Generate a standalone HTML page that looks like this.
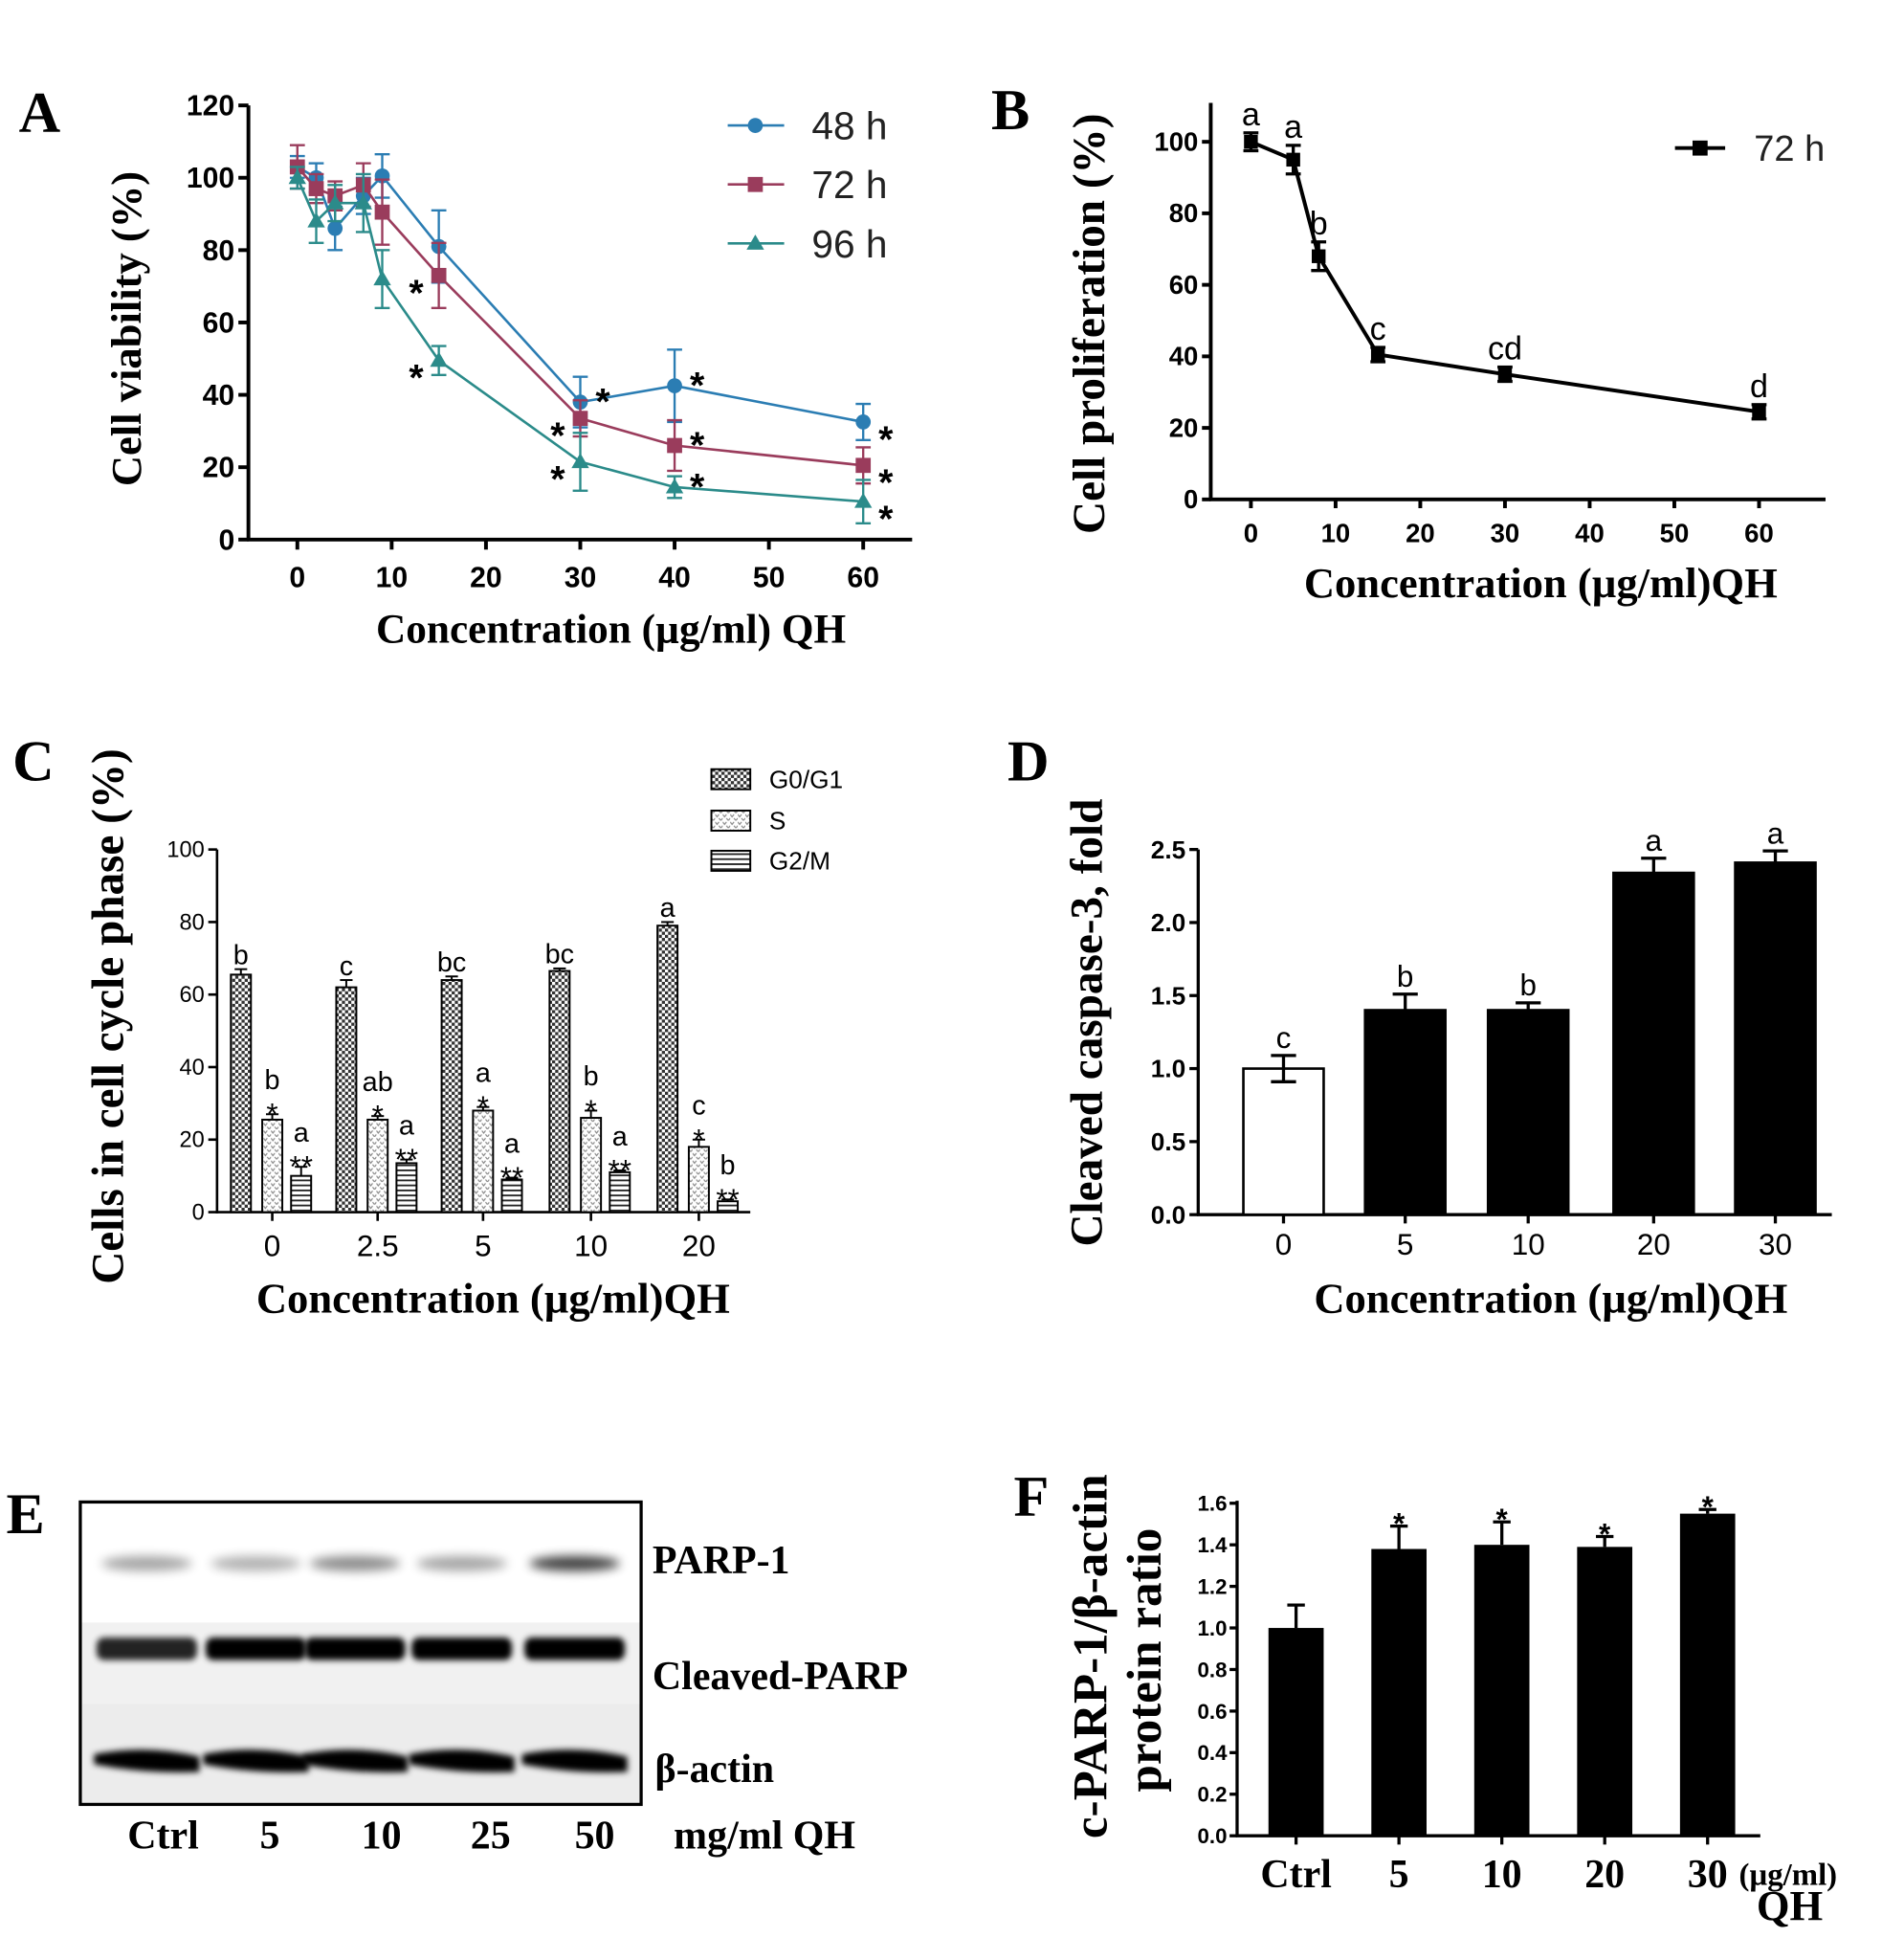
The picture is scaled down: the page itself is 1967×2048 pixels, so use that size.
<!DOCTYPE html>
<html><head><meta charset="utf-8"><style>
html,body{margin:0;padding:0;background:#fff}
svg{display:block}
.ser{font-family:"Liberation Serif",serif;font-weight:bold}
.san{font-family:"Liberation Sans",sans-serif}
</style></head><body>
<svg id="fig" width="1967" height="2048" viewBox="0 0 1500 1562" preserveAspectRatio="none" xmlns="http://www.w3.org/2000/svg">
<defs>
<filter id="blur4" x="-20%" y="-100%" width="140%" height="300%"><feGaussianBlur stdDeviation="4"/></filter>
<filter id="blur2" x="-20%" y="-100%" width="140%" height="300%"><feGaussianBlur stdDeviation="2.5"/></filter>
<pattern id="pG0" width="5" height="5" patternUnits="userSpaceOnUse"><rect width="5" height="5" fill="#fff"/><rect width="2.5" height="2.5" fill="#333"/><rect x="2.5" y="2.5" width="2.5" height="2.5" fill="#333"/></pattern>
<pattern id="pS" width="6" height="6" patternUnits="userSpaceOnUse"><rect width="6" height="6" fill="#fff"/><path d="M0 1 L1.5 3 L3 1 M3 4 L4.5 6 L6 4" stroke="#888" stroke-width="0.9" fill="none"/></pattern>
<pattern id="pG2" width="4" height="4" patternUnits="userSpaceOnUse"><rect width="4" height="4" fill="#fff"/><rect y="0" width="4" height="1.4" fill="#222"/></pattern>
</defs>
<g id="root"></g>
</svg>
<script>
// ===== Panel A data =====
const aX = [0, 2, 4, 7, 9, 15, 30, 40, 60];
const a48 = [103, 100, 86, 95, 100.5, 81, 38, 42.5, 32.5];
const a48e = [3, 4, 6, 5, 6, 10, 7, 10, 5];
const a72 = [103, 97, 95, 98, 90.5, 73, 33.5, 26, 20.5];
const a72e = [6, 4, 4, 6, 9, 9, 5, 7, 5];
const a96 = [100, 88, 93, 93, 72, 49.5, 21.5, 14.5, 10.5];
const a96e = [3, 6, 5, 8, 8, 4, 8, 3, 6];
const aYTicks = [0, 20, 40, 60, 80, 100, 120];
const aXTicks = [0, 10, 20, 30, 40, 50, 60];
// ===== Panel B data =====
const bX = [0, 5, 8, 15, 30, 60];
const bY = [100, 95, 68, 40.5, 35, 24.5];
const bE = [2.5, 4, 4, 2, 2, 2];
const bLetters = ["a", "a", "b", "c", "cd", "d"];
const bYTicks = [0, 20, 40, 60, 80, 100];
const bXTicks = [0, 10, 20, 30, 40, 50, 60];
// ===== Panel C data =====
const cCats = ["0", "2.5", "5", "10", "20"];
const cG0 = [65.5, 62, 64, 66.5, 79];
const cG0e = [1.5, 2, 1, 0.7, 1];
const cS = [25.5, 25.5, 28, 26, 18];
const cSe = [1.5, 1, 1, 2, 2];
const cG2 = [10, 13.5, 9, 11, 3];
const cG2e = [2.5, 1, 0.5, 0.5, 0.5];
const cG0L = ["b", "c", "bc", "bc", "a"];
const cSL = ["b", "ab", "a", "b", "c"];
const cG2L = ["a", "a", "a", "a", "b"];
const cYTicks = [0, 20, 40, 60, 80, 100];
// ===== Panel D data =====
const dCats = ["0", "5", "10", "20", "30"];
const dVals = [1.0, 1.4, 1.4, 2.34, 2.41];
const dErr = [0.09, 0.11, 0.05, 0.1, 0.08];
const dLetters = ["c", "b", "b", "a", "a"];
const dYTicks = [0, 0.5, 1.0, 1.5, 2.0, 2.5];
// ===== Panel F data =====
const fCats = ["Ctrl", "5", "10", "20", "30"];
const fVals = [1.0, 1.38, 1.40, 1.39, 1.55];
const fErr = [0.11, 0.11, 0.11, 0.05, 0.02];
const fYTicks = [0, 0.2, 0.4, 0.6, 0.8, 1.0, 1.2, 1.4, 1.6];
// ===== Panel E data =====
const eLanes = ["Ctrl", "5", "10", "25", "50"];
const eParp = [0.35, 0.3, 0.45, 0.35, 0.75];
const eCleaved = [0.85, 1, 1, 1, 1];
const eActin = [1, 1, 1, 1, 1];

const NS = "http://www.w3.org/2000/svg";
const root = document.getElementById("root");
function el(tag, attrs, parent, text) {
  const e = document.createElementNS(NS, tag);
  for (const k in attrs) e.setAttribute(k, attrs[k]);
  if (text !== undefined) e.textContent = text;
  (parent || root).appendChild(e);
  return e;
}
function grp(name) {
  const g = el("g", {});
  
  
  return g;
}
function txt(parent, x, y, s, size, cls, anchor, extra) {
  const t = el("text", Object.assign({x: x, y: y, "font-size": size, "class": cls, "text-anchor": anchor || "middle"}, extra || {}), parent, s);
  return t;
}
function line(p, x1, y1, x2, y2, c, w) { return el("line", {x1, y1, x2, y2, stroke: c || "#000", "stroke-width": w || 2}, p); }

// ---------- Panel A ----------
(function () {
  const g = grp("panel-a");
  const ax = v => 237 + (v / 60) * (688 - 237);
  const ay = v => 430 - (v / 120) * (430 - 84);
  const L = txt(g, 15, 105, "A", 46, "ser", "start");
  
  line(g, 198, 84, 198, 431, "#000", 3);
  line(g, 197, 430, 727, 430, "#000", 3);
  aYTicks.forEach(v => { line(g, 190, ay(v), 198, ay(v), "#000", 3); txt(g, 187, ay(v) + 8, String(v), 23, "san", "end", {"font-weight": "bold"}); });
  aXTicks.forEach(v => { line(g, ax(v), 430, ax(v), 438, "#000", 3); txt(g, ax(v), 468, String(v), 23, "san", "middle", {"font-weight": "bold"}); });
  const yt = txt(g, 0, 0, "Cell viability (%)", 34, "ser", "middle", {transform: "translate(112,262) rotate(-90)"});
  
  const xt = txt(g, 487, 512, "Concentration (µg/ml) QH", 33, "ser");
  
  const series = [[a48, a48e, "#2b7db3", "circle", "series-48h"], [a72, a72e, "#9a3c5c", "square", "series-72h"], [a96, a96e, "#2b8b8a", "triangle", "series-96h"]];
  series.forEach(([vals, errs, col, shape, name]) => {
    const sg = el("g", {}, g);
    
    
    el("polyline", {points: aX.map((x, i) => ax(x) + "," + ay(vals[i])).join(" "), fill: "none", stroke: col, "stroke-width": 2}, sg);
    aX.forEach((x, i) => {
      const cx = ax(x), cy = ay(vals[i]), t = ay(vals[i] + errs[i]), b = ay(vals[i] - errs[i]);
      line(sg, cx, t, cx, b, col, 1.8); line(sg, cx - 6, t, cx + 6, t, col, 1.8); line(sg, cx - 6, b, cx + 6, b, col, 1.8);
      let m;
      if (shape === "circle") m = el("circle", {cx, cy, r: 6, fill: col}, sg);
      else if (shape === "square") m = el("rect", {x: cx - 6, y: cy - 6, width: 12, height: 12, fill: col}, sg);
      else m = el("polygon", {points: `${cx},${cy - 7} ${cx - 7},${cy + 5} ${cx + 7},${cy + 5}`, fill: col}, sg);
      
      
    });
  });
  const stars = [[a72, 5, -1], [a96, 5, -1], [a48, 6, 1], [a72, 6, -1], [a96, 6, -1], [a48, 7, 1], [a72, 7, 1], [a96, 7, 1], [a48, 8, 1], [a72, 8, 1], [a96, 8, 1]];
  stars.forEach(([s, i, d]) => {
    const cx = ax(aX[i]) + d * 18, cy = ay(s[i]) + (d > 0 && i < 8 ? -8 : 6);
    txt(g, cx, cy + 18, "*", 30, "san", "middle", {"font-weight": "bold"});
  });
  const lg = el("g", {}, g);
  
  
  [["48 h", "#2b7db3", "circle"], ["72 h", "#9a3c5c", "square"], ["96 h", "#2b8b8a", "triangle"]].forEach(([lab, col, sh], k) => {
    const y = 100 + k * 47;
    const e = el("g", {}, lg);
    
    
    line(e, 580, y, 625, y, col, 2);
    if (sh === "circle") el("circle", {cx: 602, cy: y, r: 6, fill: col}, e);
    else if (sh === "square") el("rect", {x: 596, y: y - 6, width: 12, height: 12, fill: col}, e);
    else el("polygon", {points: `602,${y - 7} 595,${y + 5} 609,${y + 5}`, fill: col}, e);
    txt(e, 647, y + 11, lab, 31, "san", "start", {fill: "#222"});
  });
})();

// ---------- Panel B ----------
(function () {
  const g = grp("panel-b");
  const bx = v => 997 + (v / 60) * (1402 - 997);
  const by = v => 398 - (v / 100) * (398 - 113);
  txt(g, 790, 103, "B", 46, "ser", "start");
  line(g, 965, 82, 965, 399, "#000", 3);
  line(g, 964, 398, 1455, 398, "#000", 3);
  bYTicks.forEach(v => { line(g, 958, by(v), 965, by(v), "#000", 3); txt(g, 955, by(v) + 7, String(v), 21, "san", "end", {"font-weight": "bold"}); });
  bXTicks.forEach(v => { line(g, bx(v), 398, bx(v), 405, "#000", 3); txt(g, bx(v), 432, String(v), 21, "san", "middle", {"font-weight": "bold"}); });
  txt(g, 0, 0, "Cell proliferation (%)", 36, "ser", "middle", {transform: "translate(880,258) rotate(-90)"});
  txt(g, 1228, 476, "Concentration (µg/ml)QH", 34, "ser");
  const sg = el("g", {}, g);
  
  
  el("polyline", {points: bX.map((x, i) => bx(x) + "," + by(bY[i])).join(" "), fill: "none", stroke: "#000", "stroke-width": 3}, sg);
  bX.forEach((x, i) => {
    const cx = bx(x), t = by(bY[i] + bE[i]), b = by(bY[i] - bE[i]);
    line(sg, cx, t, cx, b, "#000", 2.5); line(sg, cx - 6, t, cx + 6, t, "#000", 2.5); line(sg, cx - 6, b, cx + 6, b, "#000", 2.5);
    const m = el("rect", {x: cx - 5.5, y: by(bY[i]) - 5.5, width: 11, height: 11, fill: "#000"}, sg);
    
    
    txt(sg, cx, t - 6, bLetters[i], 26, "san", "middle");
  });
  const lg = el("g", {}, g);
  
  
  line(lg, 1335, 118, 1375, 118, "#000", 3);
  el("rect", {x: 1349, y: 112, width: 12, height: 12, fill: "#000"}, lg);
  txt(lg, 1398, 128, "72 h", 29, "san", "start", {fill: "#222"});
})();

// ---------- Panel C ----------
(function () {
  const g = grp("panel-c");
  const cx0 = [217, 301, 385, 471, 557];
  const cy = v => 966 - (v / 100) * (966 - 677);
  txt(g, 10, 622, "C", 46, "ser", "start");
  line(g, 173, 677, 173, 967, "#000", 2);
  line(g, 172, 966, 598, 966, "#000", 2);
  cYTicks.forEach(v => { line(g, 166, cy(v), 173, cy(v), "#000", 2); txt(g, 163, cy(v) + 6, String(v), 18, "san", "end"); });
  cCats.forEach((c, i) => { line(g, cx0[i], 966, cx0[i], 973, "#000", 2); txt(g, cx0[i], 1001, c, 24, "san"); });
  txt(g, 0, 0, "Cells in cell cycle phase (%)", 36, "ser", "middle", {transform: "translate(98,810) rotate(-90)"});
  txt(g, 393, 1046, "Concentration (µg/ml)QH", 34, "ser");
  const sets = [[cG0, cG0e, cG0L, "", -25, "url(#pG0)", "bar-g0g1"], [cS, cSe, cSL, "*", 0, "url(#pS)", "bar-s"], [cG2, cG2e, cG2L, "**", 23, "url(#pG2)", "bar-g2m"]];
  sets.forEach(([vals, errs, labs, st, off, fill, name]) => {
    vals.forEach((v, i) => {
      const x = cx0[i] + off, top = cy(v), et = cy(v + errs[i]);
      const r = el("rect", {x: x - 8, y: top, width: 16, height: 966 - top, fill: fill, stroke: "#000", "stroke-width": 1.5}, g);
      
      
      line(g, x, top, x, et, "#000", 1.5); line(g, x - 5, et, x + 5, et, "#000", 1.5);
      let y = et - 4;
      if (st) { txt(g, x, y + 12, st, 24, "san"); y -= 16; }
      txt(g, x, y, labs[i], 22, "san");
    });
  });
  const lg = el("g", {}, g);
  
  
  [["G0/G1", "url(#pG0)", 613], ["S", "url(#pS)", 646], ["G2/M", "url(#pG2)", 678]].forEach(([lab, f, y]) => {
    const e = el("g", {}, lg);
    
    
    el("rect", {x: 567, y: y, width: 31, height: 16, fill: f, stroke: "#000", "stroke-width": 1.5}, e);
    txt(e, 613, y + 15, lab, 20, "san", "start");
  });
})();

// ---------- Panel D ----------
(function () {
  const g = grp("panel-d");
  const dx = [1018, 1115, 1213, 1313, 1410];
  const dy = v => 968 - (v / 2.5) * (968 - 677);
  txt(g, 803, 622, "D", 46, "ser", "start");
  line(g, 955, 677, 955, 969, "#000", 2.5);
  line(g, 954, 968, 1460, 968, "#000", 2.5);
  dYTicks.forEach(v => { line(g, 948, dy(v), 955, dy(v), "#000", 2.5); txt(g, 945, dy(v) + 7, v.toFixed(1), 20, "san", "end", {"font-weight": "bold"}); });
  dCats.forEach((c, i) => { line(g, dx[i] + 5, 968, dx[i] + 5, 975, "#000", 2.5); txt(g, dx[i] + 5, 1000, c, 24, "san"); });
  txt(g, 0, 0, "Cleaved   caspase-3, fold", 36, "ser", "middle", {transform: "translate(878,815) rotate(-90)"});
  txt(g, 1236, 1046, "Concentration (µg/ml)QH", 34, "ser");
  dVals.forEach((v, i) => {
    const x = dx[i] + 5, top = dy(v), et = dy(v + dErr[i]);
    const r = el("rect", {x: x - 32, y: top, width: 64, height: 968 - top, fill: i === 0 ? "#fff" : "#000", stroke: "#000", "stroke-width": 2}, g);
    
    
    line(g, x, top, x, et, "#000", 2.5); line(g, x - 10, et, x + 10, et, "#000", 2.5);
    if (i === 0) { const eb = dy(v - dErr[i]); line(g, x, top, x, eb, "#000", 2.5); line(g, x - 10, eb, x + 10, eb, "#000", 2.5); }
    txt(g, x, et - 6, dLetters[i], 24, "san");
  });
})();

// ---------- Panel E ----------
(function () {
  const g = grp("panel-e");
  const lx = [117, 204, 283, 368, 458];
  txt(g, 5, 1222, "E", 46, "ser", "start");
  el("rect", {x: 65, y: 1293, width: 446, height: 65, fill: "#f1f1f1"}, g);
  el("rect", {x: 65, y: 1358, width: 446, height: 80, fill: "#ececec"}, g);
  const blot = el("rect", {x: 64, y: 1197, width: 447, height: 241, fill: "none", stroke: "#000", "stroke-width": 2.5}, g);
  
  
  lx.forEach((x, i) => {
    const p = el("ellipse", {cx: x, cy: 1246, rx: 36, ry: 6, fill: "#000", opacity: eParp[i], filter: "url(#blur4)"}, g);
    
    
    const c = el("rect", {x: x - 40, y: 1305, width: 80, height: 18, rx: 6, fill: "#000", opacity: eCleaved[i], filter: "url(#blur2)"}, g);
    
    
    const a = el("path", {d: `M${x - 42} ${1398} Q${x} ${1390} ${x + 42} ${1400} L${x + 42} ${1412} Q${x} ${1414} ${x - 42} ${1406} Z`, fill: "#000", opacity: eActin[i], filter: "url(#blur2)"}, g);
    
    
  });
  txt(g, 520, 1254, "PARP-1", 32, "ser", "start");
  txt(g, 520, 1346, "Cleaved-PARP", 32, "ser", "start");
  txt(g, 522, 1420, "β-actin", 32, "ser", "start");
  const xl = [130, 215, 304, 391, 474];
  eLanes.forEach((l, i) => txt(g, xl[i], 1473, l, 32, "ser"));
  txt(g, 537, 1473, "mg/ml QH", 32, "ser", "start");
})();

// ---------- Panel F ----------
(function () {
  const g = grp("panel-f");
  const fx = [1033, 1115, 1197, 1279, 1361];
  const fy = v => 1463 - (v / 1.6) * (1463 - 1198);
  txt(g, 808, 1208, "F", 46, "ser", "start");
  line(g, 986, 1196, 986, 1464, "#000", 2.5);
  line(g, 985, 1463, 1403, 1463, "#000", 2.5);
  fYTicks.forEach(v => { line(g, 980, fy(v), 986, fy(v), "#000", 2.5); txt(g, 978, fy(v) + 6, v.toFixed(1), 17, "san", "end", {"font-weight": "bold"}); });
  fCats.forEach((c, i) => { line(g, fx[i], 1463, fx[i], 1470, "#000", 2.5); txt(g, fx[i], 1504, c, 32, "ser"); });
  txt(g, 1386, 1502, "(µg/ml)", 25, "ser", "start");
  txt(g, 1400, 1530, "QH", 34, "ser", "start");
  txt(g, 0, 0, "c-PARP-1/β-actin", 39, "ser", "middle", {transform: "translate(882,1320) rotate(-90)"});
  txt(g, 0, 0, "protein ratio", 39, "ser", "middle", {transform: "translate(925,1323) rotate(-90)"});
  fVals.forEach((v, i) => {
    const x = fx[i], top = fy(v), et = fy(v + fErr[i]);
    const r = el("rect", {x: x - 22, y: top, width: 44, height: 1463 - top, fill: "#000"}, g);
    
    
    line(g, x, top, x, et, "#000", 2.5); line(g, x - 7, et, x + 7, et, "#000", 2.5);
    if (i > 0) txt(g, x, et + 6, "*", 24, "san", "middle", {"font-weight": "bold"});
  });
})();
</script>
</body></html>
